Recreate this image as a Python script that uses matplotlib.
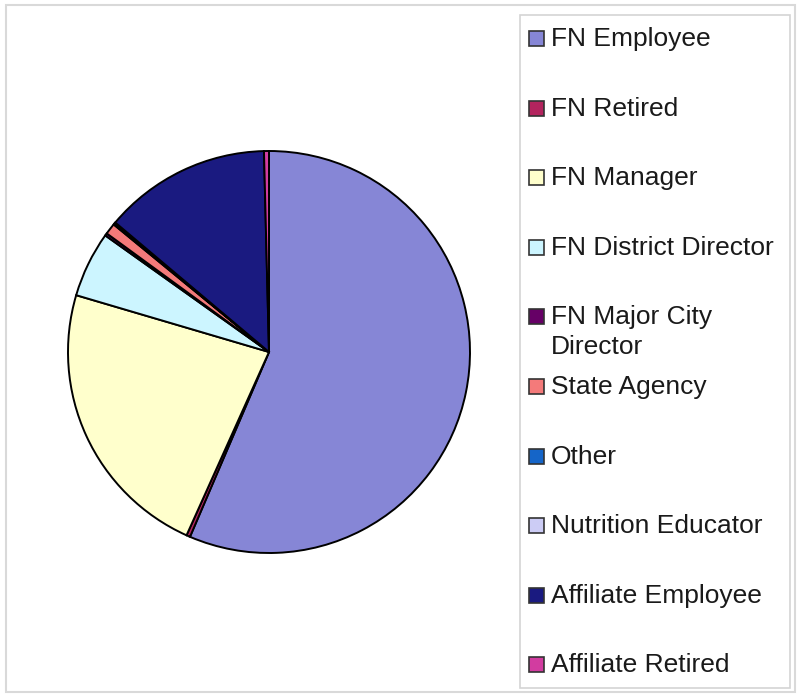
"""Membership breakdown pie with a tall Excel-style legend on the right."""

import matplotlib.pyplot as plt
from matplotlib.patches import Rectangle

labels = [
    "FN Employee",
    "FN Retired",
    "FN Manager",
    "FN District Director",
    "FN Major City\nDirector",
    "State Agency",
    "Other",
    "Nutrition Educator",
    "Affiliate Employee",
    "Affiliate Retired",
]
shares = [56.6, 0.3, 22.9, 5.3, 0.2, 0.9, 0.1, 0.1, 13.5, 0.4]
colors = [
    "#8686d6", "#b3245e", "#ffffcc", "#ccf5ff", "#660066",
    "#f47a7a", "#1565c8", "#ccccf5", "#1a1a80", "#d23ca0",
]

W, H = 801, 696
fig = plt.figure(figsize=(W / 100, H / 100), dpi=100)
plt.rcParams["font.family"] = ["Liberation Sans", "DejaVu Sans"]

# outer chart frame
fig.patches.append(Rectangle((6 / W, 1 - 692 / H), 789 / W, 687 / H,
                             transform=fig.transFigure, fill=False,
                             edgecolor="#d9d9d9", linewidth=1.5))

# pie: centre (269, 352) px, radius 201 px
cx, cy, r = 269, 352, 201
ax = fig.add_axes([(cx - r) / W, 1 - (cy + r) / H, 2 * r / W, 2 * r / H])
ax.pie(shares, colors=colors, startangle=90, counterclock=False,
       wedgeprops=dict(edgecolor="black", linewidth=1.4))
ax.set_xlim(-1, 1)
ax.set_ylim(-1, 1)
ax.set_aspect("equal")
ax.axis("off")

# legend box
lx0, ly0, lx1, ly1 = 520, 15, 790, 688
fig.patches.append(Rectangle((lx0 / W, 1 - ly1 / H), (lx1 - lx0) / W, (ly1 - ly0) / H,
                             transform=fig.transFigure, fill=False,
                             edgecolor="#d4d4d4", linewidth=1.2))

top, pitch = 38, 69.6
for i, (lab, col) in enumerate(zip(labels, colors)):
    y = top + i * pitch
    fig.patches.append(Rectangle((529 / W, 1 - (y + 8) / H), 15 / W, 15 / H,
                                 transform=fig.transFigure, facecolor=col,
                                 edgecolor="#333333", linewidth=1.2))
    fig.text(551 / W, 1 - (y - 11) / H, lab, fontsize=19, color="#1a1a1a",
             ha="left", va="top", linespacing=1.3)

fig.savefig("out.png", dpi=100)
